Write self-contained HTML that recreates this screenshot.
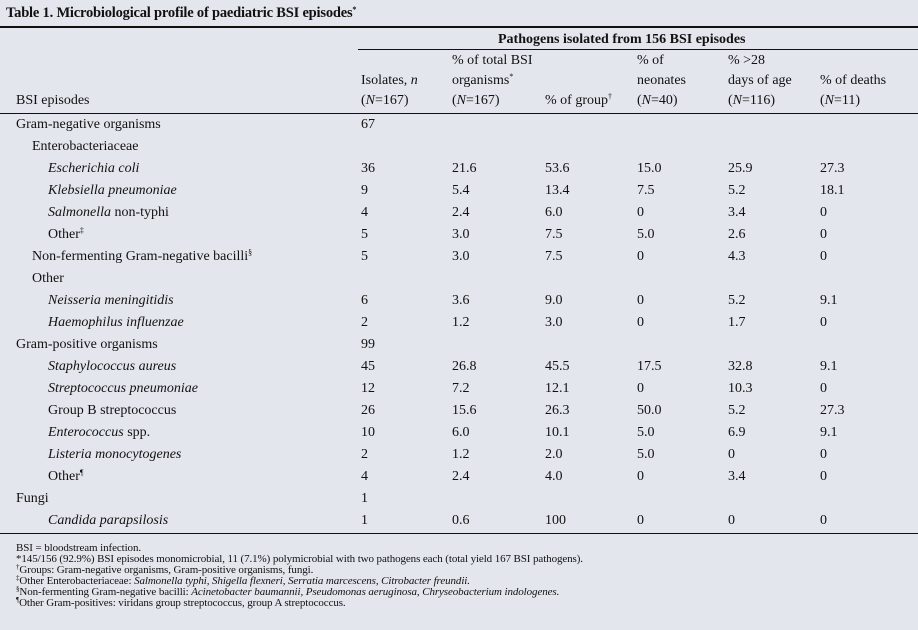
<!DOCTYPE html>
<html><head><meta charset="utf-8">
<style>
html,body{margin:0;padding:0}
body{width:918px;height:630px;background:#e4e6ed;position:relative;overflow:hidden;font-family:"Liberation Serif",serif;color:#111}
.t{position:absolute;white-space:nowrap;font-size:14px;line-height:16px}
.hr{position:absolute;background:#111}
.fn{position:absolute;left:16px;font-size:11px;line-height:11px;white-space:nowrap;letter-spacing:-0.1px}
i{font-style:italic}
sup{line-height:0;font-size:8px;vertical-align:5px}
.fn sup{font-size:7px;vertical-align:4px}
</style></head><body>
<div class="t" style="left:6px;top:5px;font-weight:bold;font-size:14.5px;letter-spacing:-0.2px">Table 1. Microbiological profile of paediatric BSI episodes<sup>*</sup></div>
<div class="hr" style="left:0;top:26px;width:918px;height:2px"></div>
<div class="t" style="left:498px;top:32px;font-weight:bold;font-size:14px">Pathogens isolated from 156 BSI episodes</div>
<div class="hr" style="left:358px;top:49px;width:560px;height:1px"></div>
<div class="t" style="left:361px;top:71px;line-height:20px">Isolates, <i>n</i><br>(<i>N</i>=167)</div>
<div class="t" style="left:452px;top:51px;line-height:20px">% of total BSI<br>organisms<sup>*</sup><br>(<i>N</i>=167)</div>
<div class="t" style="left:545px;top:93px">% of group<sup>†</sup></div>
<div class="t" style="left:637px;top:51px;line-height:20px">% of<br>neonates<br>(<i>N</i>=40)</div>
<div class="t" style="left:728px;top:51px;line-height:20px">% &gt;28<br>days of age<br>(<i>N</i>=116)</div>
<div class="t" style="left:820px;top:71px;line-height:20px">% of deaths<br>(<i>N</i>=11)</div>
<div class="t" style="left:16px;top:93px">BSI episodes</div>
<div class="hr" style="left:0;top:113px;width:918px;height:1px"></div>
<div id="rows"></div>
<div class="hr" style="left:0;top:533px;width:918px;height:1px"></div>
<div class="fn" style="top:543px">BSI = bloodstream infection.</div>
<div class="fn" style="top:554px">*145/156 (92.9%) BSI episodes monomicrobial, 11 (7.1%) polymicrobial with two pathogens each (total yield 167 BSI pathogens).</div>
<div class="fn" style="top:565px"><sup>†</sup>Groups: Gram-negative organisms, Gram-positive organisms, fungi.</div>
<div class="fn" style="top:576px"><sup>‡</sup>Other Enterobacteriaceae: <i>Salmonella typhi, Shigella flexneri, Serratia marcescens, Citrobacter freundii.</i></div>
<div class="fn" style="top:587px"><sup>§</sup>Non-fermenting Gram-negative bacilli: <i>Acinetobacter baumannii, Pseudomonas aeruginosa, Chryseobacterium indologenes.</i></div>
<div class="fn" style="top:598px"><sup>¶</sup>Other Gram-positives: viridans group streptococcus, group A streptococcus.</div>
<script>
const labels=["Gram-negative organisms","Enterobacteriaceae","<i>Escherichia coli</i>","<i>Klebsiella pneumoniae</i>","<i>Salmonella</i> non-typhi","Other<sup>‡</sup>","Non-fermenting Gram-negative bacilli<sup>§</sup>","Other","<i>Neisseria meningitidis</i>","<i>Haemophilus influenzae</i>","Gram-positive organisms","<i>Staphylococcus aureus</i>","<i>Streptococcus pneumoniae</i>","Group B streptococcus","<i>Enterococcus</i> spp.","<i>Listeria monocytogenes</i>","Other<sup>¶</sup>","Fungi","<i>Candida parapsilosis</i>"];
const levels=[0,1,2,2,2,2,1,1,2,2,0,2,2,2,2,2,2,0,2];
const isolates=["67","","36","9","4","5","5","","6","2","99","45","12","26","10","2","4","1","1"];
const pctTotal=["","","21.6","5.4","2.4","3.0","3.0","","3.6","1.2","","26.8","7.2","15.6","6.0","1.2","2.4","","0.6"];
const pctGroup=["","","53.6","13.4","6.0","7.5","7.5","","9.0","3.0","","45.5","12.1","26.3","10.1","2.0","4.0","","100"];
const pctNeo=["","","15.0","7.5","0","5.0","0","","0","0","","17.5","0","50.0","5.0","5.0","0","","0"];
const pctOld=["","","25.9","5.2","3.4","2.6","4.3","","5.2","1.7","","32.8","10.3","5.2","6.9","0","3.4","","0"];
const pctDeath=["","","27.3","18.1","0","0","0","","9.1","0","","9.1","0","27.3","9.1","0","0","","0"];
const root=document.getElementById('rows');
const cols=[[isolates,361],[pctTotal,452],[pctGroup,545],[pctNeo,637],[pctOld,728],[pctDeath,820]];
labels.forEach((lab,r)=>{
  const y=117+r*22;
  const d=document.createElement('div');d.className='t';
  
  
  d.style.left=(16+levels[r]*16)+'px';d.style.top=y+'px';d.innerHTML=lab;root.appendChild(d);
  cols.forEach(([arr,x])=>{
    if(!arr[r])return;
    const c=document.createElement('div');c.className='t';
    
    
    c.style.left=x+'px';c.style.top=y+'px';c.textContent=arr[r];root.appendChild(c);
  });
});
</script>
</body></html>
